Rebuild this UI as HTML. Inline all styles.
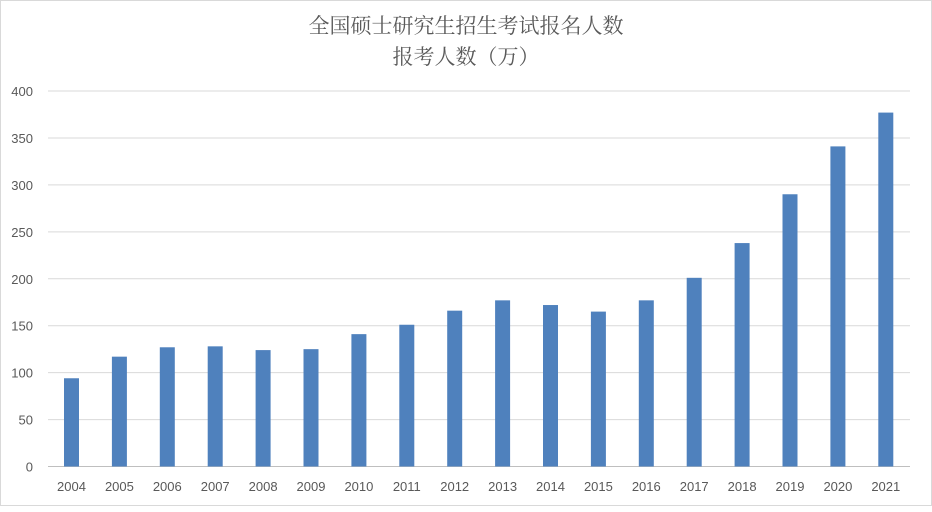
<!DOCTYPE html>
<html><head><meta charset="utf-8"><style>
body{margin:0;background:#fff;width:932px;height:507px;overflow:hidden;font-family:"Liberation Sans","Noto Sans CJK SC",sans-serif}
</style></head><body>
<svg width="932" height="507">
<rect x="0.5" y="0.5" width="931" height="505" fill="#fff" stroke="#d9d9d9"/>
<text x="466" y="33" text-anchor="middle" font-size="21" fill="#595959" font-family="'Noto Serif CJK SC','Noto Sans CJK SC',serif">全国硕士研究生招生考试报名人数</text>
<text x="466" y="64" text-anchor="middle" font-size="21" fill="#595959" font-family="'Noto Serif CJK SC','Noto Sans CJK SC',serif">报考人数（万）</text>
<g id="grid"></g><g id="bars"></g><g id="xl"></g>
</svg>
<script>
const categories=["2004","2005","2006","2007","2008","2009","2010","2011","2012","2013","2014","2015","2016","2017","2018","2019","2020","2021"];
const values=[94,117,127,128,124,125,141,151,166,177,172,165,177,201,238,290,341,377];
const yTicks=[0,50,100,150,200,250,300,350,400];
const NS="http://www.w3.org/2000/svg";
const y0=466.5,yTop=91,yMax=400,x0=48,x1=910;
const y=v=>y0-(v/yMax)*(y0-yTop);
const x=i=>71.5+i*47.9;
function mk(t,a,p,txt){const e=document.createElementNS(NS,t);for(const k in a)e.setAttribute(k,a[k]);if(txt!=null)e.textContent=txt;p.appendChild(e);return e;}
const g=document.getElementById('grid'),b=document.getElementById('bars'),xl=document.getElementById('xl');
yTicks.forEach(t=>{
const l=mk('line',{x1:x0,x2:x1,y1:y(t),y2:y(t),stroke:t===0?'#bfbfbf':'#d9d9d9','stroke-width':1},g);


const tx=mk('text',{x:33,y:y(t)+5,'text-anchor':'end','font-size':13,fill:'#595959'},g,String(t));


});
categories.forEach((c,i)=>{
const r=mk('rect',{x:x(i)-7.5,y:y(values[i]),width:15,height:y0-y(values[i]),fill:'#4f81bd'},b);


const t=mk('text',{x:x(i),y:491,'text-anchor':'middle','font-size':13,fill:'#595959'},xl,c);


});
</script>
</body></html>
